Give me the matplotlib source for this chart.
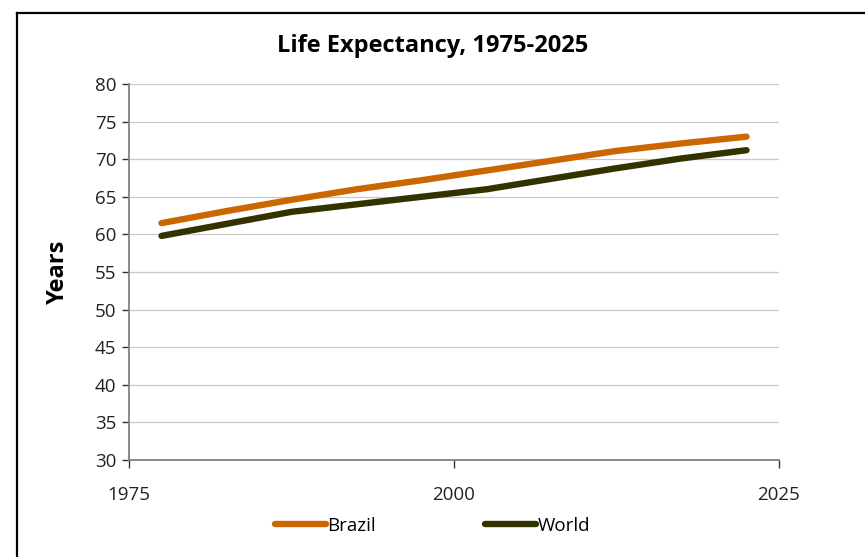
import matplotlib
matplotlib.use("Agg")
import matplotlib.pyplot as plt
from matplotlib.lines import Line2D

plt.rcParams['font.family'] = ['Open Sans', 'DejaVu Sans']

years = [1977.5, 1982.5, 1987.5, 1992.5, 1997.5, 2002.5, 2007.5, 2012.5, 2017.5, 2022.5]
brazil = [61.5, 63.1, 64.6, 66.0, 67.2, 68.5, 69.8, 71.1, 72.1, 73.0]
world = [59.8, 61.4, 63.0, 64.0, 65.0, 66.0, 67.4, 68.8, 70.1, 71.2]
series_names = ["Brazil", "World"]
colors = ["#CC6600", "#333300"]
yticks = [30, 35, 40, 45, 50, 55, 60, 65, 70, 75, 80]
xticks = [1975, 2000, 2025]

W, H = 865, 557
fig = plt.figure(figsize=(W/100, H/100), dpi=100)
ax = fig.add_axes([129/W, 1-460/H, (779-129)/W, (460-84)/H])

for vals, name, c in zip([brazil, world], series_names, colors):
    ax.plot(years, vals, color=c, lw=4.6, solid_capstyle='round', solid_joinstyle='round', label=name)

ax.set_xlim(1975, 2025)
ax.set_ylim(30, 80)
ax.set_yticks(yticks)
ax.set_xticks(xticks)
ax.yaxis.grid(True, color='#c8c8c8', lw=0.9)
ax.set_axisbelow(True)
for s in ['top', 'right']:
    ax.spines[s].set_visible(False)
for s in ['left', 'bottom']:
    ax.spines[s].set_color('#808080')
    ax.spines[s].set_linewidth(1.3)
ax.tick_params(axis='y', direction='out', length=5, width=1, color='#333333', labelsize=13.5, pad=4)
ax.tick_params(axis='x', direction='out', length=6, width=1, color='#333333', labelsize=13.5, pad=13)
for lbl in ax.get_xticklabels() + ax.get_yticklabels():
    lbl.set_color('#222222')

ax.set_ylabel("Years", fontsize=17, fontweight='bold', labelpad=18)
fig.text(0.5, 1-46/H, "Life Expectancy, 1975-2025", ha='center', va='center',
         fontsize=17, fontweight='bold')

handles = [Line2D([0], [0], color=c, lw=4.6, solid_capstyle='round') for c in colors]
fig.legend(handles, series_names, loc='center', bbox_to_anchor=(0.5, 1-526/H), ncol=2,
           frameon=False, fontsize=13.5, handlelength=2.7, handletextpad=0.1,
           columnspacing=5.8)

# outer frame lines (left & top)
fig.add_artist(Line2D([17/W, 17/W], [0, 1-12.5/H], color='black', lw=1.6, transform=fig.transFigure))
fig.add_artist(Line2D([17/W, 1], [1-12.5/H, 1-12.5/H], color='black', lw=1.6, transform=fig.transFigure))

fig.savefig("out.png", dpi=100)
